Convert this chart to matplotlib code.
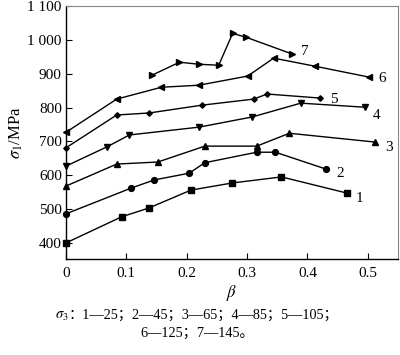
import numpy as np
import matplotlib.pyplot as plt

plt.rcParams['font.family'] = ['Liberation Serif', 'Noto Sans CJK SC']
plt.rcParams['mathtext.fontset'] = 'stix'

# beta values and sigma1 (MPa) for each curve
beta_1 = [0, 0.092, 0.137, 0.207, 0.275, 0.357, 0.466]
sig_1 = [400, 477, 503, 556, 577, 595, 547]

beta_2 = [0, 0.108, 0.146, 0.204, 0.230, 0.316, 0.347, 0.431]
sig_2 = [486, 562, 586, 606, 637, 668, 668, 618]

beta_3 = [0, 0.084, 0.152, 0.230, 0.316, 0.370, 0.512]
sig_3 = [568, 633, 639, 686, 686, 724, 698]

beta_4 = [0, 0.068, 0.105, 0.220, 0.308, 0.389, 0.495]
sig_4 = [627, 684, 719, 742, 772, 813, 801]

beta_5 = [0, 0.084, 0.138, 0.225, 0.311, 0.333, 0.421]
sig_5 = [681, 778, 784, 807, 825, 840, 828]

beta_6 = [0, 0.084, 0.158, 0.220, 0.301, 0.344, 0.413, 0.502]
sig_6 = [727, 825, 860, 866, 893, 946, 922, 890]

beta_7 = [0.143, 0.188, 0.220, 0.253, 0.276, 0.298, 0.375]
sig_7 = [896, 934, 928, 925, 1019, 1008, 958]

curve_names = ['1', '2', '3', '4', '5', '6', '7']
yticks = [400, 500, 600, 700, 800, 900, 1000, 1100]
ytick_labels = ['400', '500', '600', '700', '800', '900', '1 000', '1 100']
xticks = [0, 0.1, 0.2, 0.3, 0.4, 0.5]
xtick_labels = ['0', '0.1', '0.2', '0.3', '0.4', '0.5']

markers = ['s', 'o', '^', 'v', 'D', '<', '>']
msizes = [3.8, 4.2, 3.8, 3.8, 2.8, 3.8, 3.8]
label_offsets = [(6, -4), (7, -3), (7, -4), (6, -6), (7, -1), (7, -1), (6, 2)]

fig = plt.figure(figsize=(4, 3.55), dpi=100)
ax = fig.add_axes([0.165, 0.27, 0.83, 0.713])

series = [(beta_1, sig_1), (beta_2, sig_2), (beta_3, sig_3), (beta_4, sig_4),
          (beta_5, sig_5), (beta_6, sig_6), (beta_7, sig_7)]
for (b, s), name, m, ms, off in zip(series, curve_names, markers, msizes, label_offsets):
    ax.plot(b, s, color='black', lw=1.0, marker=m, ms=ms, clip_on=False)
    ax.annotate(name, (b[-1], s[-1]), xytext=off, textcoords='offset points',
                fontsize=11, va='center', ha='left')

ax.set_xlim(0, 0.55)
ax.set_ylim(352, 1100)
ax.set_xticks(xticks)
ax.set_xticklabels(xtick_labels)
ax.set_yticks(yticks)
ax.set_yticklabels(ytick_labels)
ax.tick_params(direction='in', length=4, labelsize=11, width=0.8)
ax.tick_params(axis='y', pad=3)
ax.tick_params(axis='x', pad=6)
for side in ['left', 'bottom']:
    ax.spines[side].set_linewidth(1.0)
for side in ['top', 'right']:
    ax.spines[side].set_color('#888888')
    ax.spines[side].set_linewidth(0.8)

ax.set_xlabel(r'$\beta$', fontsize=12, labelpad=2)
ax.set_ylabel(r'$\sigma_1$/MPa', fontsize=12, labelpad=2)

# caption
fig.text(0.138, 0.101, r'$\sigma_3$', fontsize=10.5, ha='left', va='baseline')
fig.text(0.172, 0.101, '：1—25；2—45；3—65；4—85；5—105；', fontsize=10.3,
         ha='left', va='baseline')
fig.text(0.35, 0.05, '6—125；7—145。', fontsize=10.3, ha='left', va='baseline')

fig.savefig('out.png', dpi=100)
